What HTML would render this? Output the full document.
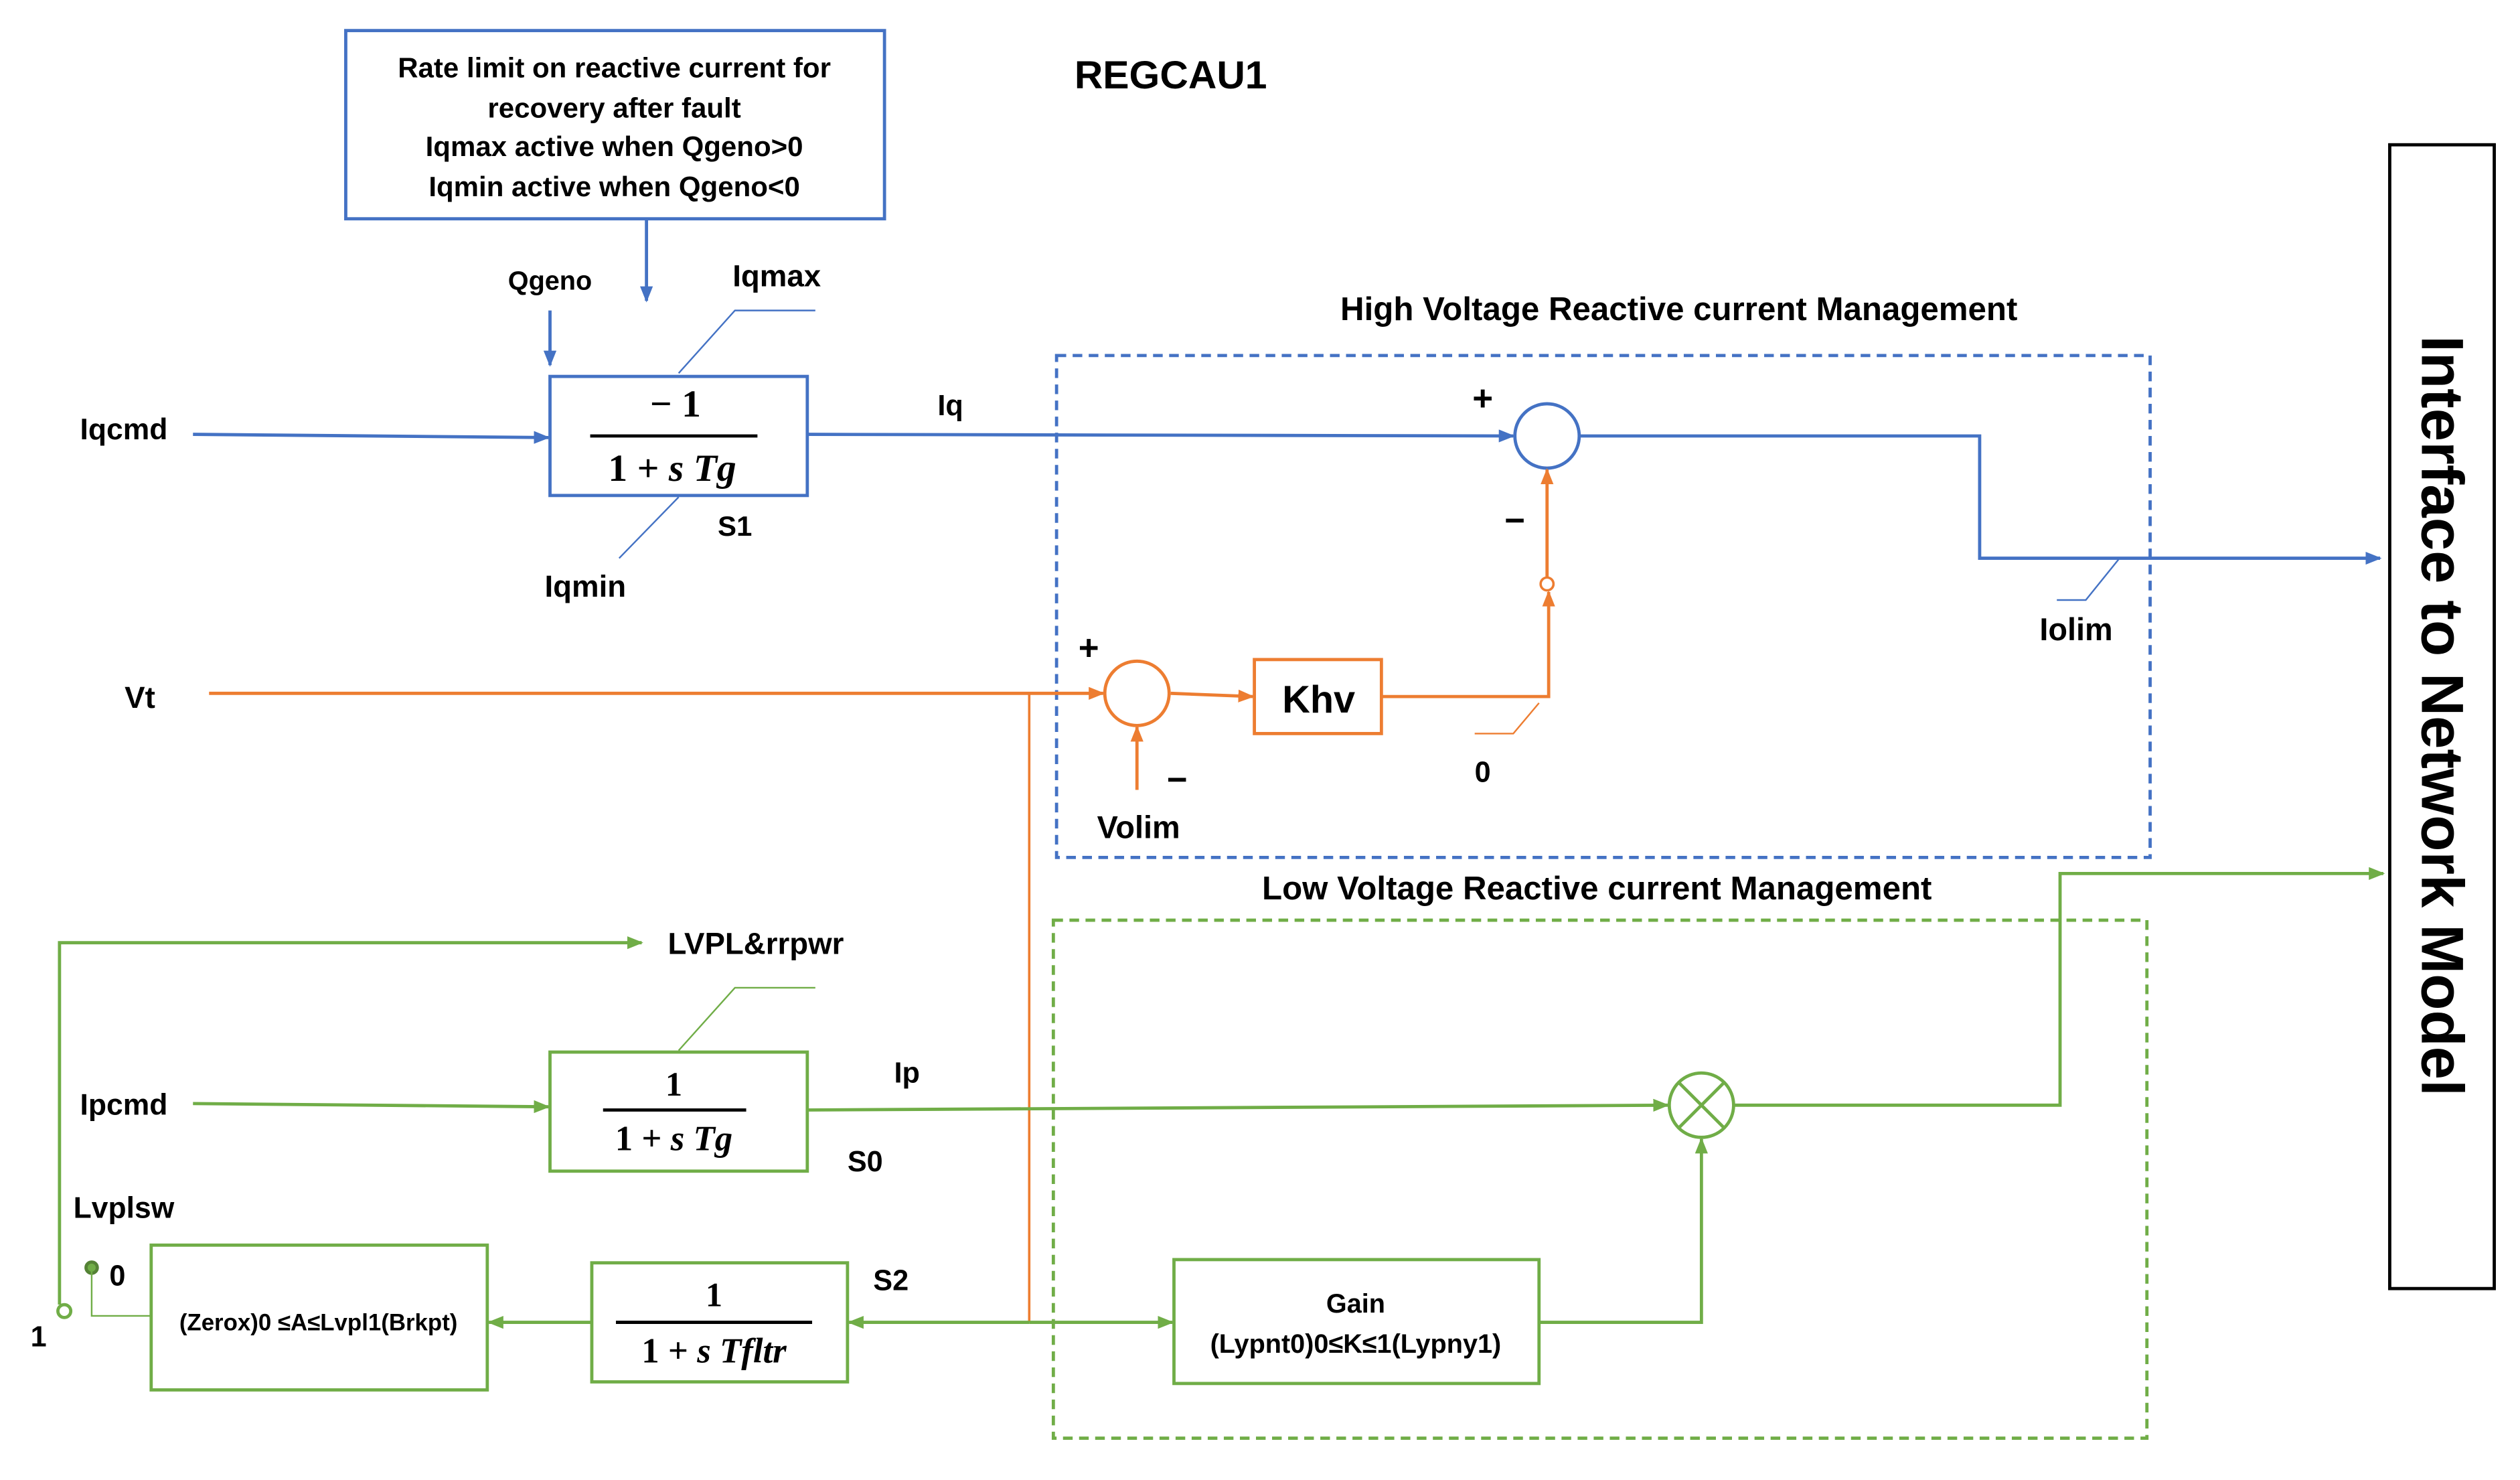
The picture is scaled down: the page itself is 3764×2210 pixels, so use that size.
<!DOCTYPE html>
<html><head><meta charset="utf-8"><style>
html,body{margin:0;padding:0;background:#fff;}
svg{display:block;}
text{font-family:"Liberation Sans",sans-serif;font-weight:bold;fill:#000;}
.m{font-family:"Liberation Serif",serif;font-weight:bold;}
</style></head><body>
<svg width="3764" height="2210" viewBox="0 0 1567 920" preserveAspectRatio="none" xmlns="http://www.w3.org/2000/svg">
<defs>
<marker id="ab" markerWidth="10" markerHeight="8" refX="9" refY="4" orient="auto" markerUnits="userSpaceOnUse"><path d="M0,0 L10,4 L0,8z" fill="#4472C4"/></marker>
<marker id="ao" markerWidth="10" markerHeight="8" refX="9" refY="4" orient="auto" markerUnits="userSpaceOnUse"><path d="M0,0 L10,4 L0,8z" fill="#ED7D31"/></marker>
<marker id="ag" markerWidth="10" markerHeight="8" refX="9" refY="4" orient="auto" markerUnits="userSpaceOnUse"><path d="M0,0 L10,4 L0,8z" fill="#70AD47"/></marker>
</defs>
<g fill="none" stroke-width="2">
<rect x="215" y="19" width="335" height="117" stroke="#4472C4"/>
<line x1="402" y1="136" x2="402" y2="187" stroke="#4472C4" marker-end="url(#ab)"/>
<line x1="342" y1="193" x2="342" y2="227" stroke="#4472C4" marker-end="url(#ab)"/>
<polyline points="422,232 457,193 507,193" stroke="#4472C4" stroke-width="1"/>
<polyline points="422,309 385,347" stroke="#4472C4" stroke-width="1"/>
<line x1="120" y1="270" x2="341" y2="272" stroke="#4472C4" marker-end="url(#ab)"/>
<rect x="342" y="234" width="160" height="74" stroke="#4472C4"/>
<line x1="502" y1="270" x2="941" y2="271" stroke="#4472C4" marker-end="url(#ab)"/>
<rect x="657" y="221" width="680" height="312" stroke="#4472C4" stroke-dasharray="6,4"/>
<circle cx="962" cy="271" r="20" stroke="#4472C4"/>
<polyline points="982,271 1231,271 1231,347 1480,347" stroke="#4472C4" marker-end="url(#ab)"/>
<polyline points="1279,373 1297,373 1318,347" stroke="#4472C4" stroke-width="1"/>
<line x1="130" y1="431" x2="686" y2="431" stroke="#ED7D31" marker-end="url(#ao)"/>
<circle cx="707" cy="431" r="20" stroke="#ED7D31"/>
<line x1="707" y1="491" x2="707" y2="452" stroke="#ED7D31" marker-end="url(#ao)"/>
<line x1="728" y1="431" x2="779" y2="433" stroke="#ED7D31" marker-end="url(#ao)"/>
<rect x="780" y="410" width="79" height="46" stroke="#ED7D31"/>
<polyline points="859,433 963,433 963,368" stroke="#ED7D31" marker-end="url(#ao)"/>
<circle cx="962" cy="363" r="4" stroke="#ED7D31" stroke-width="1.5"/>
<line x1="962" y1="359" x2="962" y2="292" stroke="#ED7D31" marker-end="url(#ao)"/>
<polyline points="917,456 941,456 957,437" stroke="#ED7D31" stroke-width="1"/>
<line x1="640" y1="431" x2="640" y2="822" stroke="#ED7D31" stroke-width="1.5"/>
<rect x="1486" y="90" width="65" height="711" stroke="#000"/>
<rect x="655" y="572" width="680" height="322" stroke="#70AD47" stroke-dasharray="6,4"/>
<polyline points="37,811 37,586 399,586" stroke="#70AD47" marker-end="url(#ag)"/>
<rect x="342" y="654" width="160" height="74" stroke="#70AD47"/>
<polyline points="422,653 457,614 507,614" stroke="#70AD47" stroke-width="1"/>
<line x1="120" y1="686" x2="341" y2="688" stroke="#70AD47" marker-end="url(#ag)"/>
<line x1="502" y1="690" x2="1037" y2="687" stroke="#70AD47" marker-end="url(#ag)"/>
<circle cx="1058" cy="687" r="20" stroke="#70AD47"/>
<line x1="1044" y1="673" x2="1072" y2="701" stroke="#70AD47"/>
<line x1="1072" y1="673" x2="1044" y2="701" stroke="#70AD47"/>
<polyline points="1078,687 1281,687 1281,543 1482,543" stroke="#70AD47" marker-end="url(#ag)"/>
<rect x="730" y="783" width="227" height="77" stroke="#70AD47"/>
<polyline points="957,822 1058,822 1058,708" stroke="#70AD47" marker-end="url(#ag)"/>
<rect x="368" y="785" width="159" height="74" stroke="#70AD47"/>
<line x1="640" y1="822" x2="729" y2="822" stroke="#70AD47" marker-end="url(#ag)"/>
<line x1="640" y1="822" x2="528" y2="822" stroke="#70AD47" marker-end="url(#ag)"/>
<line x1="368" y1="822" x2="304" y2="822" stroke="#70AD47" marker-end="url(#ag)"/>
<rect x="94" y="774" width="209" height="90" stroke="#70AD47"/>
<circle cx="40" cy="815" r="4" stroke="#70AD47"/>
<circle cx="57" cy="788" r="3.5" stroke="#548235" fill="#70AD47"/>
<polyline points="57,790 57,818 94,818" stroke="#70AD47" stroke-width="1"/>
</g>
<line x1="367" y1="271" x2="471" y2="271" stroke="#000" stroke-width="2"/>
<line x1="375" y1="690" x2="464" y2="690" stroke="#000" stroke-width="2"/>
<line x1="383" y1="822" x2="505" y2="822" stroke="#000" stroke-width="2"/>
<g text-anchor="middle">
<text x="382" y="48" font-size="17.5">Rate limit on reactive current for</text>
<text x="382" y="73" font-size="17.5">recovery after fault</text>
<text x="382" y="97" font-size="17.5">Iqmax active when Qgeno&gt;0</text>
<text x="382" y="122" font-size="17.5">Iqmin active when Qgeno&lt;0</text>
<text x="728" y="55" font-size="24.5">REGCAU1</text>
<text x="342" y="180" font-size="16.5">Qgeno</text>
<text x="483" y="178" font-size="19">Iqmax</text>
<text x="77" y="273" font-size="18.5">Iqcmd</text>
<text class="m" x="420" y="259" font-size="24">− 1</text>
<text class="m" x="418" y="299" font-size="24">1 + <tspan font-style="italic">s Tg</tspan></text>
<text x="457" y="333" font-size="17.5">S1</text>
<text x="364" y="371" font-size="19">Iqmin</text>
<text x="591" y="258" font-size="18">Iq</text>
<text x="1044" y="199" font-size="20.5">High Voltage Reactive current Management</text>
<text x="922" y="255" font-size="22">+</text>
<text x="942" y="331" font-size="22">−</text>
<text x="1291" y="398" font-size="19.5">Iolim</text>
<text x="87" y="440" font-size="19">Vt</text>
<text x="677" y="410" font-size="22">+</text>
<text x="732" y="492" font-size="22">−</text>
<text x="708" y="521" font-size="19.5">Volim</text>
<text x="820" y="443" font-size="24">Khv</text>
<text x="922" y="486" font-size="18">0</text>
<text x="993" y="559" font-size="20.5">Low Voltage Reactive current Management</text>
<text x="470" y="593" font-size="19">LVPL&amp;rrpwr</text>
<text x="77" y="693" font-size="18.5">Ipcmd</text>
<text class="m" x="419" y="681" font-size="21">1</text>
<text class="m" x="419" y="715" font-size="22">1 + <tspan font-style="italic">s Tg</tspan></text>
<text x="564" y="673" font-size="18">Ip</text>
<text x="538" y="728" font-size="18">S0</text>
<text x="843" y="816" font-size="16.5">Gain</text>
<text x="843" y="841" font-size="16.5">(Lypnt0)0≤K≤1(Lypny1)</text>
<text class="m" x="444" y="812" font-size="21">1</text>
<text class="m" x="444" y="847" font-size="22">1 + <tspan font-style="italic">s Tfltr</tspan></text>
<text x="554" y="802" font-size="18">S2</text>
<text x="198" y="827" font-size="14.5">(Zerox)0 ≤A≤Lvpl1(Brkpt)</text>
<text x="77" y="757" font-size="18.5">Lvplsw</text>
<text x="73" y="799" font-size="18">0</text>
<text x="24" y="837" font-size="18">1</text>
<text x="0" y="0" font-size="37" transform="translate(1506,445) rotate(90)">Interface to Network Model</text>
</g>
</svg>
</body></html>
